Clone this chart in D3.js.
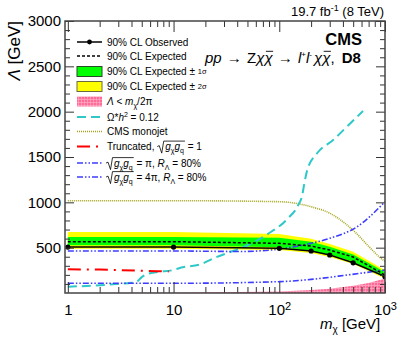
<!DOCTYPE html>
<html>
<head>
<meta charset="utf-8">
<script src="https://cdn.jsdelivr.net/npm/d3@7"></script>
<style>
  body { margin: 0; background: #fff; }
  text { font-family: "Liberation Sans", Arial, Helvetica, sans-serif; }
</style>
</head>
<body>
<div id="chart"></div>
<script>
// limits vs dark matter mass (GeV)
var obsMass = [1, 10, 100, 200, 300, 500, 1000];
var obsLambda = [507, 507, 493, 463, 419, 333, 180];
var expLambda = [566, 566, 548, 518, 474, 397, 198];

var bandMass = [1, 10, 100, 200, 300, 500, 1000];
var sig1Up = [617, 617, 610, 566, 510, 426, 232];
var sig1Dn = [526, 526, 504, 463, 426, 345, 172];
var sig2Up = [673, 672, 650, 599, 540, 455, 250];
var sig2Dn = [489, 489, 474, 441, 397, 320, 160];

// Lambda < m/2pi region
var pinkMass = [1, 10, 100, 200, 300, 500, 700, 1000];
var pinkLambda = [0.16, 1.6, 15.9, 31.8, 47.7, 79.6, 111.4, 159.2];

// relic density Omega h^2 = 0.12
var relicMass = [1, 2, 3, 4, 4.5, 5, 5.5, 7, 10, 11.6, 18, 23.8, 34, 43, 77, 119, 151, 165, 172, 184, 229, 323, 450, 620];
var relicLambda = [70, 85, 100, 112, 125, 175, 205, 232, 254, 279, 316, 382, 450, 493, 647, 816, 970, 1080, 1200, 1356, 1544, 1687, 1850, 2007];

// CMS monojet
var monoMass = [1, 10, 100, 200, 302, 400, 536, 705, 960, 1000];
var monoLambda = [1018, 1018, 1007, 951, 879, 786, 658, 511, 364, 350];

// truncated, sqrt(gx gq) = 1
var truncMass = [1, 2, 3, 5, 7, 9];
var truncLambda = [261, 258, 252, 245, 240, 237];

// sqrt(gx gq) = pi, R = 80%
var piMass = [1, 10, 43, 100, 200, 300, 545, 1000];
var piLambda = [463, 463, 458, 485, 548, 603, 731, 1007];

// sqrt(gx gq) = 4pi, R = 80%
var fourPiMass = [1, 10, 100, 200, 437, 1000];
var fourPiLambda = [107, 107, 125, 150, 198, 254];

var yTickValues = [500, 1000, 1500, 2000, 2500, 3000];
var xTickValues = [1, 10, 100, 1000];

var svgWidth = 399;
var svgHeight = 337;
var margin = { top: 21, right: 14, bottom: 44, left: 65 };
var width = svgWidth - margin.left - margin.right;
var height = svgHeight - margin.top - margin.bottom;

var svg = d3.select("#chart").append("svg")
  .attr("width", svgWidth)
  .attr("height", svgHeight);

var defs = svg.append("defs");
var pat = defs.append("pattern")
  .attr("id", "hatch")
  .attr("width", 3).attr("height", 3)
  .attr("patternUnits", "userSpaceOnUse");
pat.append("rect").attr("width", 3).attr("height", 3).attr("fill", "#ff6a98");
pat.append("path").attr("d", "M0,0.5H3M0.5,0V3")
  .attr("stroke", "#ffaac4").attr("stroke-width", 0.7);

defs.append("clipPath").attr("id", "clip")
  .append("rect").attr("width", width).attr("height", height);

var chartGroup = svg.append("g")
  .attr("transform", `translate(${margin.left}, ${margin.top})`);

var x = d3.scaleLog().domain([0.94, 1000]).range([0, width]);
var y = d3.scaleLinear().domain([0, 3000]).range([height, 0]);

function zip(ms, vs) { return ms.map((m, i) => ({ m: m, v: vs[i] })); }

var plot = chartGroup.append("g").attr("clip-path", "url(#clip)");

var bandArea = d3.area()
  .x(d => x(d.m))
  .y0(d => y(d.lo))
  .y1(d => y(d.hi));

var band2 = bandMass.map((m, i) => ({ m: m, lo: sig2Dn[i], hi: sig2Up[i] }));
var band1 = bandMass.map((m, i) => ({ m: m, lo: sig1Dn[i], hi: sig1Up[i] }));

plot.append("path").datum(band2).attr("d", bandArea).attr("fill", "#ffff00");
plot.append("path").datum(band1).attr("d", bandArea).attr("fill", "#00ff00");

var pinkArea = d3.area().x(d => x(d.m)).y0(y(0)).y1(d => y(d.v));
plot.append("path").datum(zip(pinkMass, pinkLambda)).attr("d", pinkArea)
  .attr("fill", "url(#hatch)");

var line = d3.line().x(d => x(d.m)).y(d => y(d.v));
var smooth = d3.line().x(d => x(d.m)).y(d => y(d.v)).curve(d3.curveMonotoneX);

function drawLine(data, color, w, dash, gen) {
  plot.append("path").datum(data)
    .attr("d", gen || line)
    .attr("fill", "none")
    .attr("stroke", color)
    .attr("stroke-width", w)
    .attr("stroke-dasharray", dash);
}

drawLine(zip(monoMass, monoLambda), "#a5a51c", 1.6, "1,1", smooth);
drawLine(zip(relicMass, relicLambda), "#2ec8c8", 2, "9,5", smooth);
drawLine(zip(truncMass, truncLambda), "#ff0000", 2, "13,6,2,6");
drawLine(zip(piMass, piLambda), "#3c3cff", 1.6, "6,2,1.5,2,1.5,2", smooth);
drawLine(zip(fourPiMass, fourPiLambda), "#3c3cff", 1.6, "6,2,1.5,2,1.5,2", smooth);
drawLine(zip(obsMass, expLambda), "#000", 1.5, "3,2");
drawLine(zip(obsMass, obsLambda), "#000", 1.5, null);

plot.selectAll(".obsDot")
  .data(zip(obsMass, obsLambda))
  .enter()
  .append("circle")
  .attr("cx", d => x(d.m))
  .attr("cy", d => y(d.v))
  .attr("r", 2.6)
  .attr("fill", "#000");

// axes with inward ticks
var minorY = d3.range(0, 3001, 100).filter(v => v % 500 !== 0);
var minorX = [];
[1, 10, 100].forEach(function(dec) {
  for (var k = 2; k <= 9; k++) minorX.push(k * dec);
});

function styleAxis(g) {
  g.select(".domain").remove();
  g.selectAll("line").attr("stroke", "#333").attr("stroke-width", 1);
  g.selectAll("text").attr("font-size", "15px").attr("fill", "#000")
    .attr("font-family", "\"Liberation Sans\", Arial, sans-serif");
}

chartGroup.append("g")
  .call(d3.axisLeft(y).tickValues(yTickValues).tickSizeInner(-9).tickPadding(4).tickFormat(d3.format("d")))
  .call(styleAxis);
chartGroup.append("g")
  .call(d3.axisLeft(y).tickValues(minorY).tickSizeInner(-5).tickFormat(""))
  .call(styleAxis);
chartGroup.append("g").attr("transform", `translate(${width},0)`)
  .call(d3.axisRight(y).tickValues(yTickValues).tickSizeInner(-9).tickFormat(""))
  .call(styleAxis);
chartGroup.append("g").attr("transform", `translate(${width},0)`)
  .call(d3.axisRight(y).tickValues(minorY).tickSizeInner(-5).tickFormat(""))
  .call(styleAxis);

var xAxis = chartGroup.append("g").attr("transform", `translate(0,${height})`)
  .call(d3.axisBottom(x).tickValues(xTickValues).tickSizeInner(-11).tickPadding(11)
    .tickFormat(d => d < 100 ? String(d) : "10"))
  .call(styleAxis);
xAxis.selectAll(".tick text").filter(d => d >= 100)
  .append("tspan").attr("dy", "-0.45em").attr("font-size", "11px")
  .text(d => d === 100 ? "2" : "3");
chartGroup.append("g").attr("transform", `translate(0,${height})`)
  .call(d3.axisBottom(x).tickValues(minorX).tickSizeInner(-6).tickFormat(""))
  .call(styleAxis);
chartGroup.append("g")
  .call(d3.axisTop(x).tickValues(xTickValues).tickSizeInner(-11).tickFormat(""))
  .call(styleAxis);
chartGroup.append("g")
  .call(d3.axisTop(x).tickValues(minorX).tickSizeInner(-6).tickFormat(""))
  .call(styleAxis);

chartGroup.append("rect")
  .attr("width", width).attr("height", height)
  .attr("fill", "none").attr("stroke", "#444").attr("stroke-width", 1.5);

// rich text laid out piece by piece, widths measured from the rendered svg text
function richText(g, x0, y0, pieces, baseSize) {
  var cx = x0;
  var radStart = null;
  pieces.forEach(function(p) {
    if (p.rad) { radStart = cx; cx += p.w || 8; return; }
    if (p.radEnd) {
      var s = baseSize;
      var top = y0 - 0.9 * s;
      g.append("path")
        .attr("d", `M${radStart},${y0 - 0.35 * s}L${radStart + 2},${y0 - 0.45 * s}L${radStart + 4.5},${y0 + 0.3 * s}L${radStart + 6.5},${top}L${cx + 1},${top}`)
        .attr("fill", "none").attr("stroke", "#000").attr("stroke-width", 0.8);
      cx += 1;
      return;
    }
    var size = p.size || baseSize;
    cx += p.dx || 0;
    var t = g.append("text")
      .attr("x", cx)
      .attr("y", y0 + (p.dy || 0))
      .attr("font-size", size + "px")
      .attr("font-style", p.it ? "italic" : "normal")
      .attr("font-weight", p.bold ? "bold" : "normal")
      .attr("xml:space", "preserve")
      .style("white-space", "pre")
      .text(p.t);
    var w = t.node().getComputedTextLength();
    if (p.bar) {
      g.append("line")
        .attr("x1", cx + 1.5).attr("x2", cx + w + 0.5)
        .attr("y1", y0 - 0.78 * size).attr("y2", y0 - 0.78 * size)
        .attr("stroke", "#000").attr("stroke-width", 0.9);
    }
    cx += w;
  });
}

// legend
var legend = svg.append("g");
var lx0 = 77, lx1 = 102, tx = 107, fs = 10;
var rows = [42, 56, 71.5, 86.5, 101.5, 117, 131.5, 146.5, 163, 177];

legend.append("line").attr("x1", lx0).attr("x2", lx1).attr("y1", rows[0]).attr("y2", rows[0])
  .attr("stroke", "#000").attr("stroke-width", 1.5);
legend.append("circle").attr("cx", (lx0 + lx1) / 2).attr("cy", rows[0]).attr("r", 2.4);
legend.append("line").attr("x1", lx0).attr("x2", lx1).attr("y1", rows[1]).attr("y2", rows[1])
  .attr("stroke", "#000").attr("stroke-width", 1.5).attr("stroke-dasharray", "3,2");
legend.append("rect").attr("x", lx0).attr("y", rows[2] - 5).attr("width", lx1 - lx0).attr("height", 10)
  .attr("fill", "#00ff00").attr("stroke", "#2a4a2a").attr("stroke-width", 1);
legend.append("rect").attr("x", lx0).attr("y", rows[3] - 5).attr("width", lx1 - lx0).attr("height", 10)
  .attr("fill", "#ffff00").attr("stroke", "#6a6a40").attr("stroke-width", 1);
legend.append("rect").attr("x", lx0).attr("y", rows[4] - 5).attr("width", lx1 - lx0).attr("height", 10)
  .attr("fill", "url(#hatch)");
legend.append("line").attr("x1", lx0).attr("x2", lx1).attr("y1", rows[5]).attr("y2", rows[5])
  .attr("stroke", "#2ec8c8").attr("stroke-width", 2).attr("stroke-dasharray", "9,5");
legend.append("line").attr("x1", lx0).attr("x2", lx1).attr("y1", rows[6]).attr("y2", rows[6])
  .attr("stroke", "#a5a51c").attr("stroke-width", 1.6).attr("stroke-dasharray", "1,1");
legend.append("line").attr("x1", lx0).attr("x2", lx1).attr("y1", rows[7]).attr("y2", rows[7])
  .attr("stroke", "#ff0000").attr("stroke-width", 2).attr("stroke-dasharray", "13,6,2,6");
legend.append("line").attr("x1", lx0).attr("x2", lx1).attr("y1", rows[8]).attr("y2", rows[8])
  .attr("stroke", "#3c3cff").attr("stroke-width", 1.6).attr("stroke-dasharray", "6,2,1.5,2,1.5,2");
legend.append("line").attr("x1", lx0).attr("x2", lx1).attr("y1", rows[9]).attr("y2", rows[9])
  .attr("stroke", "#3c3cff").attr("stroke-width", 1.6).attr("stroke-dasharray", "6,2,1.5,2,1.5,2");

var legendTexts = [
  [{ t: "90% CL Observed" }],
  [{ t: "90% CL Expected" }],
  [{ t: "90% CL Expected \u00b1 " }, { t: "1\u03c3", size: 7.5, dy: -1 }],
  [{ t: "90% CL Expected \u00b1 " }, { t: "2\u03c3", size: 7.5, dy: -1 }],
  [{ t: "\u039b", it: true }, { t: " < " }, { t: "m", it: true }, { t: "\u03c7", size: 7, dy: 3 }, { t: "/2\u03c0" }],
  [{ t: "\u03a9*" }, { t: "h", it: true }, { t: "2", size: 7, dy: -4 }, { t: " = 0.12" }],
  [{ t: "CMS monojet" }],
  [{ t: "Truncated, " }, { rad: true, w: 8 }, { t: "g", it: true }, { t: "\u03c7", size: 7, dy: 3 },
    { t: "g", it: true }, { t: "q", size: 7, dy: 3 }, { radEnd: true }, { t: " = 1" }],
  [{ rad: true, w: 8 }, { t: "g", it: true }, { t: "\u03c7", size: 7, dy: 3 },
    { t: "g", it: true }, { t: "q", size: 7, dy: 3 }, { radEnd: true }, { t: " = \u03c0, " },
    { t: "R", it: true }, { t: "\u039b", size: 7, dy: 3 }, { t: " = 80%" }],
  [{ rad: true, w: 8 }, { t: "g", it: true }, { t: "\u03c7", size: 7, dy: 3 },
    { t: "g", it: true }, { t: "q", size: 7, dy: 3 }, { radEnd: true }, { t: " = 4\u03c0, " },
    { t: "R", it: true }, { t: "\u039b", size: 7, dy: 3 }, { t: " = 80%" }]
];
legendTexts.forEach(function(pieces, i) {
  richText(legend, i >= 8 ? tx - 1 : tx, rows[i] + 3.6, pieces, fs);
});

// labels
svg.append("text")
  .attr("x", 384).attr("y", 16)
  .attr("text-anchor", "end")
  .attr("font-size", "13px")
  .html("19.7 fb<tspan dy='-5' font-size='9px'>-1</tspan><tspan dy='5'> (8 TeV)</tspan>");

svg.append("text")
  .attr("x", 362).attr("y", 45)
  .attr("text-anchor", "end")
  .attr("font-size", "16.5px")
  .attr("font-weight", "bold")
  .text("CMS");

var proc = svg.append("g");
richText(proc, 205, 63, [
  { t: "pp", it: true },
  { t: " \u2192 ", dx: 1 },
  { t: "Z", dx: 1 },
  { t: "\u03c7", it: true },
  { t: "\u03c7", it: true, bar: true },
  { t: " \u2192 ", dx: 1 },
  { t: "l", it: true, dx: 1 },
  { t: "+", size: 8, dy: -6 },
  { t: "l", it: true },
  { t: "-", size: 8, dy: -6 },
  { t: "\u03c7", it: true, dx: 2 },
  { t: "\u03c7", it: true, bar: true },
  { t: ", " },
  { t: "D8", bold: true, dx: 3 }
], 15);

svg.append("text")
  .attr("transform", "translate(20,21) rotate(-90)")
  .attr("text-anchor", "end")
  .attr("font-size", "17px")
  .html("<tspan font-style='italic'>\u039b</tspan> [GeV]");

var xl = svg.append("g");
richText(xl, 320, 329, [
  { t: "m", it: true },
  { t: "\u03c7", size: 10, dy: 4 },
  { t: " [GeV]" }
], 15);
</script>
</body>
</html>
